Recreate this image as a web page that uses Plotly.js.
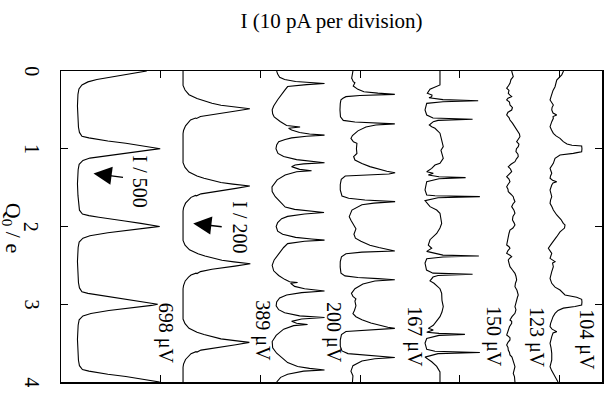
<!DOCTYPE html>
<html><head><meta charset="utf-8">
<script src="https://cdn.plot.ly/plotly-3.0.1.min.js"></script>
<style>html,body{margin:0;padding:0;background:#fff}#c{width:609px;height:393px}</style>
</head><body><div id="c"></div>
<script>
// Gate charge Q0/e (vertical) vs current I (pA, offset per trace)
const labels = ['698 μV','389 μV','200 μV','167 μV','150 μV','123 μV','104 μV'];
const offsets = [1.7, 12.24, 21.13, 27.98, 36.51, 44.53, 48.85];   // pA baseline of each curve
const labelQ = [3.38, 3.34, 3.37, 3.42, 3.41, 3.42, 3.45];
const labelI = [10.43, 20.21, 27.38, 35.46, 43.43, 47.64, 52.76];
const qTicks = [0, 1, 2, 3, 4];
const qTickText = ['0', '1', '2', '3', '4'];

// [Q0/e, I (pA above baseline)]
const t698 = [[0,6.9],[0.02,6.0],[0.05,4.6],[0.08,3.1],[0.11,1.9],[0.14,1.0],[0.18,0.4],[0.23,0.1],[0.3,0],
 [0.45,-0.05],[0.6,0],[0.72,0.05],[0.79,0.15],[0.84,0.4],[0.86,1.1],[0.88,2.0],[0.9,3.0],[0.93,4.8],[0.96,6.4],[0.98,7.5],[1.0,8.25],
 [1.015,7.3],[1.04,5.8],[1.08,3.1],[1.12,1.2],[1.15,0.5],[1.2,0.12],[1.27,0.02],
 [1.45,-0.05],[1.6,0],[1.72,0.05],[1.79,0.15],[1.84,0.45],[1.86,1.1],[1.88,2.1],[1.9,3.0],[1.93,4.7],[1.96,6.3],[1.98,7.4],[2.0,8.2],
 [2.015,7.2],[2.04,5.7],[2.08,3.0],[2.12,1.2],[2.15,0.5],[2.2,0.12],[2.27,0.02],
 [2.45,-0.05],[2.6,0],[2.72,0.05],[2.79,0.15],[2.84,0.4],[2.86,1.0],[2.88,2.0],[2.9,3.1],[2.93,4.8],[2.96,6.3],[2.98,7.3],[3.0,8.0],
 [3.015,7.4],[3.04,5.9],[3.08,3.1],[3.12,1.3],[3.15,0.5],[3.2,0.12],[3.27,0.02],
 [3.45,-0.05],[3.6,0],[3.72,0.05],[3.79,0.15],[3.84,0.45],[3.86,1.1],[3.88,2.0],[3.9,3.0],[3.93,4.8],[3.96,6.3],[3.98,7.4],[4.0,8.2]];

const t389 = [[0,0],[0.185,0],[0.245,0.2],[0.305,0.6],[0.355,1.4],[0.385,2.1],[0.415,2.9],[0.44,3.8],[0.46,5.0],[0.475,6.1],[0.485,6.7],
 [0.515,5.3],[0.555,3.0],[0.585,1.75],[0.61,1.35],[0.605,1.25],[0.63,0.75],[0.655,0.6],[0.705,0.25],[0.765,0.05],[0.805,0],
 [1.18,0],[1.24,0.2],[1.3,0.6],[1.35,1.4],[1.38,2.1],[1.41,2.9],[1.435,3.8],[1.455,5.0],[1.47,6.1],[1.48,6.7],
 [1.51,5.3],[1.55,3.0],[1.58,1.8],[1.605,1.35],[1.6,1.25],[1.625,0.8],[1.65,0.6],[1.7,0.25],[1.76,0.05],[1.8,0],
 [2.18,0],[2.24,0.2],[2.3,0.65],[2.35,1.5],[2.38,2.2],[2.41,3.0],[2.435,3.9],[2.455,5.1],[2.47,6.2],[2.48,6.75],
 [2.51,5.2],[2.55,2.9],[2.58,1.75],[2.605,1.4],[2.6,1.3],[2.625,0.8],[2.65,0.55],[2.7,0.22],[2.76,0.05],[2.8,0],
 [3.19,0],[3.25,0.2],[3.31,0.6],[3.36,1.4],[3.39,2.1],[3.42,2.9],[3.445,3.8],[3.465,5.0],[3.48,6.0],[3.49,6.65],
 [3.52,5.3],[3.56,3.0],[3.59,1.8],[3.615,1.4],[3.61,1.3],[3.635,0.8],[3.66,0.6],[3.71,0.25],[3.77,0.05],[3.81,0],[4.0,0]];

const t200 = [[0,0.5],[0.04,0.6],[0.08,0.8],[0.11,1.3],[0.135,2.4],[0.15,4.0],[0.16,5.3],[0.175,3.5],[0.2,1.6],[0.25,1.3],
 [0.3,1.0],[0.37,0.6],[0.45,0.2],[0.5,0.05],[0.55,0.1],[0.59,0.25],[0.65,0.85],[0.7,1.5],[0.72,2.85],[0.737,1.7],
 [0.76,2.0],[0.79,2.8],[0.81,3.8],[0.825,5.3],[0.84,3.5],[0.86,2.0],[0.88,1.35],[0.91,0.7],[0.95,0.5],[1.0,0.43],
 [1.06,0.63],[1.1,1.2],[1.14,2.5],[1.165,4.0],[1.18,5.3],[1.195,3.2],[1.21,2.35],[1.23,2.0],[1.265,2.8],[1.282,4.0],
 [1.295,2.5],[1.338,1.35],[1.4,0.55],[1.49,0.03],[1.55,0.05],[1.617,0.36],[1.68,0.86],[1.75,1.36],[1.78,2.3],[1.8,3.5],
 [1.82,5.25],[1.84,3.3],[1.87,1.6],[1.9,1.0],[1.95,0.6],[2.0,0.45],[2.06,0.6],[2.1,1.1],[2.14,2.4],[2.16,4.0],
 [2.175,5.3],[2.19,3.3],[2.22,1.6],[2.27,1.2],[2.35,0.7],[2.43,0.25],[2.5,0.05],[2.57,0.2],[2.63,0.7],[2.68,1.3],
 [2.71,1.8],[2.72,2.6],[2.73,1.9],[2.77,2.3],[2.8,3.3],[2.83,5.3],[2.85,3.0],[2.88,1.5],[2.92,0.8],[2.97,0.5],
 [3.02,0.45],[3.07,0.7],[3.11,1.3],[3.15,2.8],[3.17,5.3],[3.19,3.0],[3.22,2.0],[3.245,2.5],[3.26,3.6],[3.275,2.2],
 [3.32,1.2],[3.4,0.45],[3.48,0.05],[3.56,0.1],[3.63,0.5],[3.7,1.2],[3.75,1.6],[3.8,2.6],[3.825,3.8],[3.845,5.3],
 [3.86,3.2],[3.9,1.6],[3.94,0.9],[4.0,0.5]];

const t167 = [[0,1.3],[0.04,1.25],[0.094,1.17],[0.107,1.23],[0.137,1.33],[0.15,1.5],[0.193,1.33],[0.236,1.8],[0.266,2.4],[0.285,3.8],[0.30,5.5],
 [0.315,2.0],[0.33,0.6],[0.35,0.3],[0.37,0.1],[0.42,0.03],[0.5,0],[0.59,0.05],[0.635,0.33],[0.655,1.5],[0.67,3.5],[0.68,5.5],
 [0.695,3.6],[0.72,2.6],[0.77,1.8],[0.83,1.25],[0.866,1.1],[0.89,1.2],[0.91,1.35],[0.93,1.7],[1.0,1.65],[1.06,1.7],[1.1,1.37],[1.145,1.5],
 [1.19,2.2],[1.23,3.0],[1.265,3.9],[1.29,4.7],[1.308,5.53],[1.325,4.9],[1.35,0.53],[1.393,0.13],[1.46,0.03],[1.53,0.03],[1.608,0.2],[1.637,0.87],[1.66,2.5],[1.68,5.53],
 [1.70,3.4],[1.72,2.2],[1.788,1.2],[1.873,0.93],[1.92,1.1],[1.97,1.35],[2.03,1.6],[2.1,1.4],[2.15,1.55],[2.19,2.1],[2.24,3.0],[2.27,3.9],[2.295,4.8],[2.315,5.5],
 [2.33,2.2],[2.35,0.6],[2.39,0.15],[2.45,0.03],[2.52,0.02],[2.6,0.1],[2.635,0.5],[2.655,1.8],[2.67,3.8],[2.685,5.5],
 [2.70,3.5],[2.74,2.3],[2.8,1.5],[2.86,1.15],[2.9,1.3],[2.93,1.6],[2.96,1.5],[3.02,1.6],[3.08,1.45],[3.12,1.3],[3.16,1.6],[3.2,2.2],[3.24,3.1],[3.27,3.9],[3.295,4.8],[3.31,5.5],
 [3.325,3.5],[3.35,0.6],[3.39,0.15],[3.46,0.03],[3.54,0.03],[3.6,0.2],[3.635,0.8],[3.655,2.4],[3.67,4.0],[3.685,5.5],
 [3.70,3.5],[3.73,2.2],[3.79,1.3],[3.86,1.1],[3.92,1.3],[4.0,1.25]];

const t150 = [[0,1.5],[0.18,1.5],[0.235,0.5],[0.287,0.23],[0.31,0.7],[0.33,0.67],[0.345,0.4],[0.368,1.8],[0.382,5.33],[0.395,1.8],[0.416,0.17],[0.5,0],[0.566,0.17],[0.605,0.8],[0.62,4.77],[0.635,1.3],
 [0.652,0.83],[0.695,0.43],[0.716,0.67],[0.737,1.0],[0.8,1.5],[0.887,1.67],[0.973,1.83],[1.02,1.6],[1.059,1.67],[1.123,1.83],[1.187,1.5],[1.209,1.0],[1.252,0.67],[1.295,0.17],[1.316,0.83],[1.338,0.33],
 [1.36,1.4],[1.372,4.07],[1.385,1.4],[1.424,0.17],[1.53,0],[1.595,0.17],[1.605,1.0],[1.616,5.5],[1.63,1.3],[1.668,0],[1.745,0.5],[1.788,1.17],[1.83,1.5],[1.9,1.6],[1.96,1.67],[2.02,1.5],
 [2.09,1.17],[2.17,0.5],[2.24,0.33],[2.28,0.67],[2.32,0.17],[2.368,1.8],[2.38,5.4],[2.393,1.8],[2.415,0.17],[2.47,0],[2.56,0.15],[2.6,0.8],[2.615,4.77],[2.63,1.3],[2.65,0.8],[2.7,0.5],[2.73,0.9],
 [2.8,1.5],[2.86,1.67],[2.95,1.7],[3.03,1.83],[3.1,1.7],[3.16,1.5],[3.27,0.83],[3.31,0.33],[3.33,0.83],[3.36,0.17],[3.375,1.4],[3.387,4.0],[3.4,1.4],[3.44,0.17],[3.5,0],[3.58,0.17],[3.605,1.0],
 [3.62,5.5],[3.635,1.3],[3.68,0],[3.74,0.67],[3.8,1.17],[3.87,1.5],[4.0,1.5]];

const t123 = [[0,0.67],[0.04,0.8],[0.073,0.83],[0.11,0.6],[0.158,0.5],[0.19,0.35],[0.222,0.17],[0.25,0.4],[0.287,0.33],[0.31,0.5],[0.33,0.67],[0.35,0.3],[0.373,0.17],[0.4,0.45],[0.437,0.5],
 [0.47,0.75],[0.502,0.67],[0.53,0.3],[0.566,0.17],[0.6,0.4],[0.63,0.5],[0.67,0.75],[0.716,1.0],[0.75,1.2],[0.78,1.33],[0.81,1.45],[0.845,1.5],[0.88,1.3],[0.909,1.17],[0.94,1.4],[0.973,1.33],
 [1.0,1.15],[1.038,1.1],[1.07,1.3],[1.102,1.33],[1.13,1.15],[1.166,1.0],[1.2,0.6],[1.231,0.33],[1.26,0.55],[1.295,0.67],[1.33,0.4],[1.359,0.17],[1.39,0.4],[1.424,0.5],[1.46,0.3],[1.488,0.17],
 [1.52,0.3],[1.552,0.33],[1.585,0.6],[1.617,0.83],[1.65,0.9],[1.681,1.0],[1.71,0.8],[1.745,0.67],[1.79,0.9],[1.83,1.0],[1.87,0.8],[1.916,0.75],[1.95,0.9],[1.98,1.0],[2.02,0.8],[2.045,0.5],
 [2.09,0.4],[2.131,0.33],[2.18,0.25],[2.238,0.17],[2.26,0.4],[2.28,0.5],[2.31,0.3],[2.345,0.17],[2.37,0.5],[2.388,0.67],[2.41,0.45],[2.431,0.33],[2.47,0.4],[2.517,0.5],[2.56,0.75],[2.602,1.0],
 [2.64,1.1],[2.688,1.17],[2.73,1.05],[2.774,1.0],[2.82,1.2],[2.881,1.33],[2.91,1.25],[2.945,1.17],[2.99,1.05],[3.031,1.0],[3.07,1.1],[3.117,1.0],[3.16,0.7],[3.203,0.5],[3.22,0.67],[3.245,0.67],
 [3.29,0.45],[3.331,0.33],[3.36,0.25],[3.395,0.17],[3.43,0.5],[3.459,0.5],[3.49,0.3],[3.524,0.17],[3.556,0.3],[3.588,0.33],[3.62,0.45],[3.652,0.5],[3.68,0.7],[3.717,0.83],[3.76,0.9],[3.803,1.0],
 [3.85,0.9],[3.889,0.83],[3.93,0.95],[3.974,1.0],[4.0,1.0]];

const t104 = [[0,1.55],[0.009,1.53],[0.051,1.37],[0.116,0.87],[0.16,0.8],[0.202,0.7],[0.25,0.5],[0.287,0.37],[0.33,0.3],[0.373,0.2],[0.4,0.35],[0.437,0.53],[0.47,0.4],[0.502,0.37],[0.54,0.5],
 [0.566,0.87],[0.585,0.5],[0.609,0.53],[0.652,0.37],[0.69,0.25],[0.716,0.2],[0.76,0.35],[0.802,0.53],[0.835,0.8],[0.866,1.2],[0.909,1.53],[0.94,1.9],[0.955,2.4],[0.965,3.37],[1.0,3.4],[1.038,3.37],
 [1.05,2.9],[1.059,2.53],[1.08,1.2],[1.123,0.7],[1.188,0.53],[1.252,0.2],[1.29,0.3],[1.316,0.37],[1.35,0.25],[1.38,0.2],[1.405,0.45],[1.424,0.87],[1.44,0.5],[1.466,0.37],[1.531,0.2],[1.575,0.3],
 [1.617,0.37],[1.66,0.25],[1.702,0.2],[1.75,0.4],[1.788,0.53],[1.852,0.87],[1.91,1.3],[1.96,1.53],[1.98,1.7],[2.02,1.65],[2.07,1.2],[2.131,0.87],[2.17,0.6],[2.217,0.37],[2.28,0.03],[2.31,0.2],
 [2.345,0.37],[2.41,0.2],[2.43,0.4],[2.452,0.7],[2.47,0.45],[2.517,0.53],[2.581,0.37],[2.62,0.3],[2.667,0.2],[2.731,0.37],[2.78,0.7],[2.817,1.2],[2.86,1.5],[2.88,1.7],[2.91,2.87],[2.936,3.37],
 [2.97,3.4],[3.01,3.37],[3.03,2.7],[3.05,1.53],[3.08,1.0],[3.117,0.7],[3.16,0.5],[3.2,0.37],[3.25,0.25],[3.288,0.2],[3.32,0.4],[3.352,0.87],[3.37,0.5],[3.417,0.37],[3.46,0.25],[3.502,0.2],
 [3.56,0.3],[3.631,0.37],[3.717,0.37],[3.76,0.3],[3.803,0.2],[3.85,0.35],[3.889,0.53],[3.953,0.87],[4.0,1.0]];

const curves = [t698, t389, t200, t167, t150, t123, t104];

const FONT = 'Liberation Serif, Times New Roman, serif';
const traces = curves.map((c, k) => ({
  x: c.map(p => p[1] + offsets[k]),
  y: c.map(p => p[0]),
  type: 'scatter', mode: 'lines',
  line: {color: '#000', width: 1.1},
  hoverinfo: 'skip', showlegend: false
}));

const ann = labels.map((t, k) => ({
  text: t, x: labelI[k], y: labelQ[k], xref: 'x', yref: 'y',
  showarrow: false, textangle: 90, font: {family: FONT, size: 20, color: '#000'}
}));
ann.push({text: 'I / 500', x: 7.87, y: 1.428, xref: 'x', yref: 'y', showarrow: false, textangle: 90,
  font: {family: FONT, size: 20, color: '#000'}});
ann.push({text: 'I / 200', x: 17.92, y: 2.006, xref: 'x', yref: 'y', showarrow: false, textangle: 90,
  font: {family: FONT, size: 20, color: '#000'}});
ann.push({text: '', x: 3.26, y: 1.318, ax: 6.37, ay: 1.37, xref: 'x', yref: 'y', axref: 'x', ayref: 'y',
  showarrow: true, arrowhead: 2, arrowsize: 2.6, arrowwidth: 1.4, arrowcolor: '#000'});
ann.push({text: '', x: 13.26, y: 1.961, ax: 16.27, ay: 2.006, xref: 'x', yref: 'y', axref: 'x', ayref: 'y',
  showarrow: true, arrowhead: 2, arrowsize: 2.6, arrowwidth: 1.4, arrowcolor: '#000'});
// rotated tick labels on the Q axis
qTicks.forEach((q, k) => ann.push({text: qTickText[k], x: -0.054, y: q, xref: 'paper', yref: 'y',
  showarrow: false, textangle: 90, xanchor: 'center', yanchor: 'middle',
  font: {family: FONT, size: 20, color: '#000'}}));
// rotated axis title
ann.push({text: 'Q<sub>0</sub> / e', x: -0.09, y: 2.02, xref: 'paper', yref: 'y', showarrow: false, textangle: 90,
  xanchor: 'center', yanchor: 'middle', font: {family: FONT, size: 22, color: '#000'}});

const layout = {
  width: 609, height: 393,
  margin: {l: 61, r: 7, t: 71, b: 11, pad: 0},
  paper_bgcolor: '#fff', plot_bgcolor: '#fff',
  font: {family: FONT, color: '#000'},
  title: {text: 'I (10 pA per division)', x: 0.5, xref: 'paper', y: 1 - 21 / 393, yref: 'container',
    yanchor: 'middle', font: {family: FONT, size: 21, color: '#000'}},
  xaxis: {range: [0, 54.26], tick0: 0, dtick: 10, ticks: 'inside', ticklen: 7, tickwidth: 1.2, tickcolor: '#000',
    showticklabels: false, showgrid: false, zeroline: false, showline: true, linewidth: 1.5, linecolor: '#000',
    mirror: 'ticks', fixedrange: true},
  yaxis: {range: [4, 0], tickvals: qTicks, showticklabels: false,
    ticks: 'inside', ticklen: 7, tickwidth: 1.2, tickcolor: '#000',
    showgrid: false, zeroline: false, showline: true, linewidth: 1.5, linecolor: '#000', mirror: 'ticks', fixedrange: true},
  annotations: ann
};

Plotly.newPlot('c', traces, layout, {staticPlot: true, displayModeBar: false});
</script>
</body></html>
